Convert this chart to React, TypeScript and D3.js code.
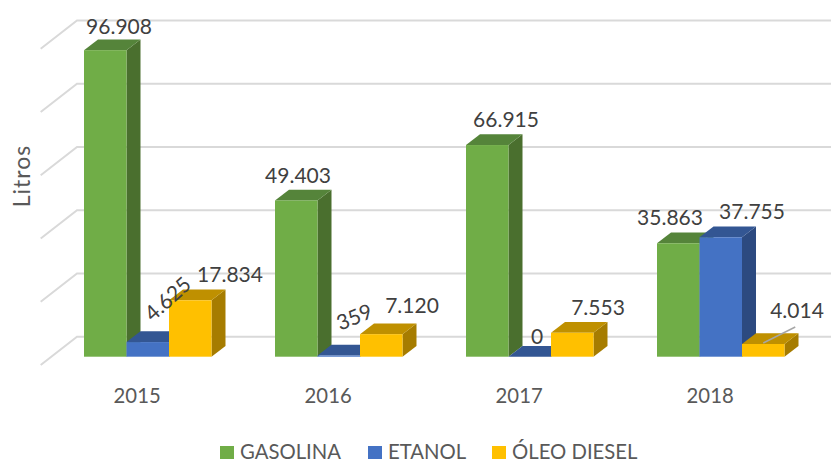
import React from 'react';
import * as d3 from 'd3';

const years = ['2015', '2016', '2017', '2018'];
const seriesNames = ['GASOLINA', 'ETANOL', 'ÓLEO DIESEL'];
const gasolina = [96908, 49403, 66915, 35863];
const etanol = [4625, 359, 0, 37755];
const diesel = [17834, 7120, 7553, 4014];
const gridTicks = [0, 20000, 40000, 60000, 80000, 100000];

// front, top, side
const shades = [
  ['#70AD47', '#55843A', '#4A6F2E'],
  ['#4472C4', '#335693', '#2C4A80'],
  ['#FFC000', '#BF9000', '#A67C00'],
];

// label nudges from the centre of each bar's top edge
const nudgeGasolina = [[13.75, -24.5], [1.75, -26.4], [18.75, -27], [-8.25, -26.3]];
const nudgeEtanol = [[19.25, -44], [15.25, -39.6], [7.25, -21.7], [31.25, -26.3]];
const nudgeDiesel = [[39.75, -26.3], [30.75, -29.2], [25.75, -26.8], [33.75, -35]];
const rotEtanol = [-42, -22, 0, 0];

const FONT = 'Lato, "Open Sans", sans-serif';
const WIDTH = 831;
const HEIGHT = 459;

const App = () => {
  const values = [gasolina, etanol, diesel];
  const nudges = [nudgeGasolina, nudgeEtanol, nudgeDiesel];

  // 1. Scales
  const x = d3.scaleBand<string>()
    .domain(years)
    .range([52.25, 816.25])
    .paddingInner(0.3325)
    .paddingOuter(0.16623);
  const xSeries = d3.scaleBand<string>()
    .domain(seriesNames)
    .range([0, x.bandwidth()]);
  const y = d3.scaleLinear().domain([0, 100000]).range([356.7, 40.4]);

  // bar depth, and the wall/floor offsets relative to the bar plane
  const depthX = 14;
  const depthY = 10.7;
  const wallLeft = 40.7;
  const wallBack = 77;
  const floorFront = 8.3;
  const floorBack = -20;

  const line = d3.line();
  const fmt = d3.formatLocale({
    decimal: ',',
    thousands: '.',
    grouping: [3],
    currency: ['R$', ''],
  }).format(',d');

  const legendSwatchX = [220, 368, 492];

  return (
    <div style={{ position: 'fixed', left: 0, top: 0, width: WIDTH, height: HEIGHT, overflow: 'hidden', background: '#fff' }}>
      <svg width={WIDTH} height={HEIGHT} style={{ display: 'block', fontFamily: FONT }}>
        {/* Grid on wall and side */}
        <g stroke="#D9D9D9" strokeWidth={2} fill="none">
          {gridTicks.map(t => (
            <path
              key={t}
              d={line([
                [wallLeft, y(t) + floorFront],
                [wallBack, y(t) + floorBack],
                [WIDTH, y(t) + floorBack],
              ]) as string}
            />
          ))}
        </g>

        {/* Bars, left to right so that the later ones cover the earlier sides */}
        {years.map((year, yi) => (
          <g key={year}>
            {seriesNames.map((name, si) => {
              const x0 = (x(year) as number) + (xSeries(name) as number);
              const x1 = x0 + xSeries.bandwidth();
              const yt = y(values[si][yi]);
              const yb = y(0);
              const [front, top, side] = shades[si];
              return (
                <g key={name}>
                  <path fill={side} d={line([[x1, yt], [x1 + depthX, yt - depthY], [x1 + depthX, yb - depthY], [x1, yb]]) + 'Z'} />
                  <path fill={top} d={line([[x0, yt], [x0 + depthX, yt - depthY], [x1 + depthX, yt - depthY], [x1, yt]]) + 'Z'} />
                  <rect x={x0} y={yt} width={x1 - x0} height={yb - yt} fill={front} />
                </g>
              );
            })}
          </g>
        ))}

        {/* Leader line of the last diesel label */}
        <path
          d={line([
            [(x('2018') as number) + (xSeries('ÓLEO DIESEL') as number) + xSeries.bandwidth() / 2 + 32, y(diesel[3]) - 17],
            [(x('2018') as number) + (xSeries('ÓLEO DIESEL') as number) + xSeries.bandwidth() / 2, y(diesel[3]) - 1],
          ]) as string}
          stroke="#A6A6A6"
          strokeWidth={1.5}
          fill="none"
        />

        {/* Data labels */}
        {years.map((year, yi) =>
          seriesNames.map((name, si) => {
            const cx = (x(year) as number) + (xSeries(name) as number) + xSeries.bandwidth() / 2 + nudges[si][yi][0];
            const cy = y(values[si][yi]) + nudges[si][yi][1];
            const rot = si === 1 ? rotEtanol[yi] : 0;
            return (
              <text
                key={year + name}
                transform={`translate(${cx},${cy}) rotate(${rot})`}
                textAnchor="middle"
                dominantBaseline="central"
                fontSize={21}
                fill="#404040"
              >
                {fmt(values[si][yi])}
              </text>
            );
          })
        )}

        {/* Category labels */}
        {years.map(year => (
          <text
            key={year}
            x={(x(year) as number) + x.bandwidth() / 2 - 10.6}
            y={395}
            textAnchor="middle"
            dominantBaseline="central"
            fontSize={20.3}
            fill="#595959"
          >
            {year}
          </text>
        ))}

        {/* Axis title */}
        <text
          transform="translate(30,176) rotate(-90)"
          textAnchor="middle"
          fontSize={23}
          letterSpacing={1}
          fill="#595959"
        >
          Litros
        </text>

        {/* Legend, sitting on the bottom edge of the picture */}
        {seriesNames.map((name, si) => (
          <g key={name}>
            <rect x={legendSwatchX[si]} y={446} width={14} height={13} fill={shades[si][0]} />
            <text x={legendSwatchX[si] + 20} y={459} fontSize={20.3} fill="#595959">{name}</text>
          </g>
        ))}
      </svg>
    </div>
  );
};

export default App;
